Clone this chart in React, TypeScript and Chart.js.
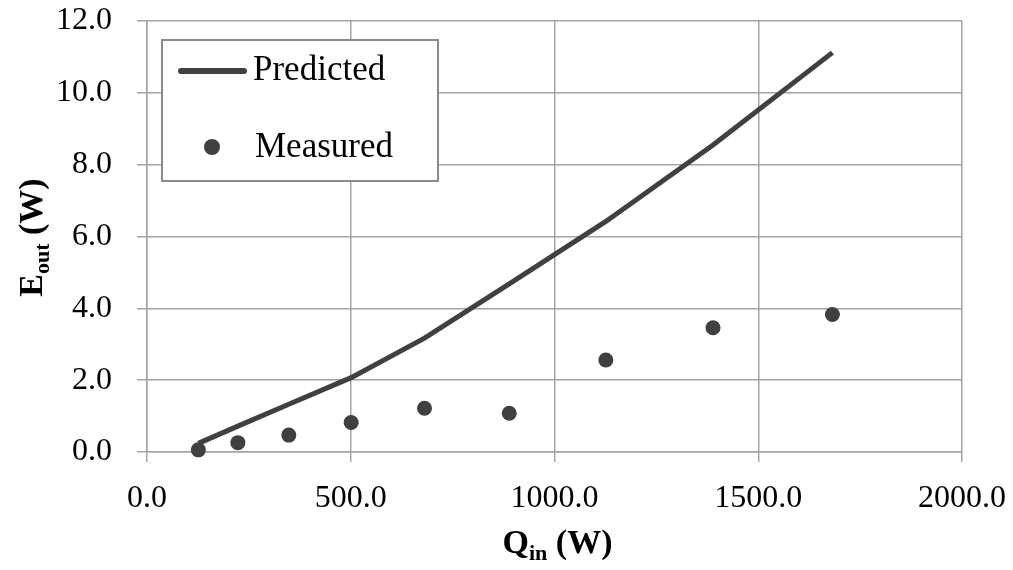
import { useEffect, useRef } from "react";
import { Chart, registerables } from "chart.js";

Chart.register(...registerables);

// Heat input (W) at each test point
const qIn = [126, 223, 348, 501, 681, 889, 1126, 1389, 1682];
// Model output power (W)
const predicted = [0.24, 0.72, 1.33, 2.07, 3.17, 4.68, 6.42, 8.55, 11.12];
// Measured output power (W)
const measured = [0.06, 0.26, 0.47, 0.82, 1.22, 1.08, 2.56, 3.46, 3.83];

const seriesLabels = ["Predicted", "Measured"];
const xTitle = { main: "Q", sub: "in", rest: " (W)" };
const yTitle = { main: "E", sub: "out", rest: " (W)" };

const INK = "#404040";
const GRID = "#a3a3a3";
const TICK_FONT = "Liberation Serif";

function drawSubscripted(
  ctx: CanvasRenderingContext2D,
  t: { main: string; sub: string; rest: string },
  cx: number,
  baseline: number
) {
  const big = "bold 34px 'Liberation Serif'";
  const small = "bold 22px 'Liberation Serif'";
  ctx.font = big;
  const wMain = ctx.measureText(t.main).width;
  const wRest = ctx.measureText(t.rest).width;
  ctx.font = small;
  const wSub = ctx.measureText(t.sub).width;
  let x = cx - (wMain + wSub + wRest) / 2;
  ctx.textAlign = "left";
  ctx.textBaseline = "alphabetic";
  ctx.font = big;
  ctx.fillText(t.main, x, baseline);
  x += wMain;
  ctx.font = small;
  ctx.fillText(t.sub, x, baseline + 7);
  x += wSub;
  ctx.font = big;
  ctx.fillText(t.rest, x, baseline);
}

const decorations = {
  id: "decorations",
  afterDraw(chart: Chart) {
    const { ctx, chartArea } = chart;
    ctx.save();
    ctx.fillStyle = "#000";

    // axis titles with subscripts
    drawSubscripted(ctx, xTitle, (chartArea.left + chartArea.right) / 2 + 3, 553);
    ctx.save();
    ctx.translate(42, (chartArea.top + chartArea.bottom) / 2 + 1);
    ctx.rotate(-Math.PI / 2);
    drawSubscripted(ctx, yTitle, 0, 0);
    ctx.restore();

    // legend box inside the plot
    const bx = 162, by = 40, bw = 276, bh = 141;
    ctx.fillStyle = "#fff";
    ctx.fillRect(bx, by, bw, bh);
    ctx.strokeStyle = "#8a8a8a";
    ctx.lineWidth = 2;
    ctx.strokeRect(bx, by, bw, bh);

    ctx.strokeStyle = INK;
    ctx.lineWidth = 6;
    ctx.lineCap = "round";
    ctx.beginPath();
    ctx.moveTo(181, 71);
    ctx.lineTo(244, 71);
    ctx.stroke();

    ctx.fillStyle = INK;
    ctx.beginPath();
    ctx.arc(212, 147, 8, 0, Math.PI * 2);
    ctx.fill();

    ctx.fillStyle = "#000";
    ctx.font = "35px 'Liberation Serif'";
    ctx.textAlign = "left";
    ctx.textBaseline = "alphabetic";
    ctx.fillText(seriesLabels[0], 253, 80);
    ctx.fillText(seriesLabels[1], 255, 157);
    ctx.restore();
  },
};

export default function App() {
  const ref = useRef<HTMLCanvasElement | null>(null);

  useEffect(() => {
    if (!ref.current) return;
    const chart = new Chart(ref.current, {
      type: "scatter",
      data: {
        datasets: [
          {
            label: seriesLabels[0],
            data: qIn.map((x, i) => ({ x, y: predicted[i] })),
            showLine: true,
            borderColor: INK,
            borderWidth: 5,
            tension: 0,
            pointRadius: 0,
            clip: false,
          },
          {
            label: seriesLabels[1],
            data: qIn.map((x, i) => ({ x, y: measured[i] })),
            showLine: false,
            pointRadius: 7.5,
            pointBackgroundColor: INK,
            pointBorderWidth: 0,
            clip: false,
          },
        ],
      },
      options: {
        responsive: false,
        animation: false,
        events: [],
        layout: { padding: { left: 0, right: 51, top: 21, bottom: 0 } },
        plugins: { legend: { display: false }, tooltip: { enabled: false } },
        scales: {
          x: {
            type: "linear",
            min: 0,
            max: 2000,
            ticks: {
              stepSize: 500,
              callback: (v) => Number(v).toFixed(1),
              font: { family: TICK_FONT, size: 32 },
              color: "#000",
              padding: 17,
              maxRotation: 0,
            },
            grid: { color: GRID, lineWidth: 1.5, tickLength: 10 },
            border: { color: GRID, width: 1.5 },
            afterFit: (s: any) => {
              s.height = 118;
              s.paddingLeft = 0;
              s.paddingRight = 0;
            },
          },
          y: {
            type: "linear",
            min: 0,
            max: 12,
            ticks: {
              stepSize: 2,
              callback: (v) => Number(v).toFixed(1),
              font: { family: TICK_FONT, size: 32 },
              color: "#000",
              padding: 25,
            },
            grid: { color: GRID, lineWidth: 1.5, tickLength: 10 },
            border: { color: GRID, width: 1.5 },
            afterFit: (s: any) => {
              s.width = 147;
              s.paddingTop = 0;
              s.paddingBottom = 0;
            },
          },
        },
      },
      plugins: [decorations],
    });
    return () => chart.destroy();
  }, []);

  return (
    <div style={{ position: "absolute", left: 0, top: 0, width: 1013, height: 570, background: "#fff" }}>
      <canvas ref={ref} width={1013} height={570} style={{ display: "block" }} />
    </div>
  );
}
